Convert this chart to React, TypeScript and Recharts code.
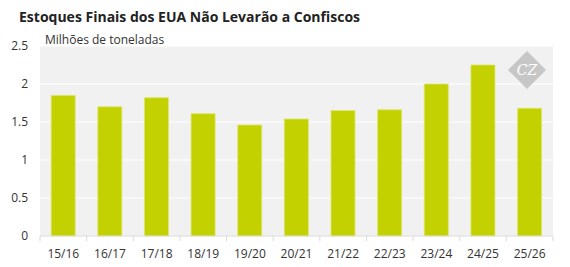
import React from "react";
import { BarChart, Bar, XAxis, YAxis, CartesianGrid } from "recharts";

const seasons = ["15/16", "16/17", "17/18", "18/19", "19/20", "20/21", "21/22", "22/23", "23/24", "24/25", "25/26"];
const stocks = [1.85, 1.7, 1.82, 1.61, 1.46, 1.54, 1.65, 1.66, 2.0, 2.25, 1.68];
const yTicks = [0, 0.5, 1, 1.5, 2, 2.5];

const W = 570;
const H = 267;
const M = { top: 46, right: 17, left: 0, bottom: 0 };
const Y_W = 40;
const FONT = "'Open Sans', sans-serif";

const data = seasons.map((s, i) => ({ season: s, value: stocks[i] }));

/* ── x tick: label + boundary tick marks ──────────────────────── */
function SeasonTick(props: any) {
  const { x, y, payload, index } = props;
  const band = (W - M.right - Y_W) / seasons.length;
  const left = x - band / 2;
  const axisY = y - 8; // tick y sits tickSize + tickMargin below the axis line
  const isLast = index === seasons.length - 1;
  return (
    <g>
      <line x1={left} x2={left} y1={axisY} y2={axisY + 5} stroke="#d9d9d9" />
      {isLast && <line x1={left + band} x2={left + band} y1={axisY} y2={axisY + 5} stroke="#d9d9d9" />}
      <text x={x} y={axisY + 22} textAnchor="middle" fill="#333" fontSize={12} fontFamily={FONT}>
        {payload.value}
      </text>
    </g>
  );
}

export default function App() {
  return (
    <div style={{ position: "absolute", left: 0, top: 0, width: W, height: H, background: "#fff", fontFamily: FONT }}>
      <div style={{ position: "absolute", left: 19, top: 7, fontSize: 14, fontWeight: 700, color: "#222", whiteSpace: "nowrap" }}>
        Estoques Finais dos EUA Não Levarão a Confiscos
      </div>
      <div style={{ position: "absolute", left: 45, top: 31, fontSize: 12, color: "#333", whiteSpace: "nowrap" }}>
        Milhões de toneladas
      </div>
      <BarChart width={W} height={H} data={data} margin={M} barCategoryGap="24%">
        <CartesianGrid vertical={false} stroke="#ffffff" fill="#f1f1f1" />
        <XAxis
          dataKey="season"
          height={H - 236}
          axisLine={{ stroke: "#d9d9d9" }}
          tickLine={false}
          interval={0}
          tick={<SeasonTick />}
        />
        <YAxis
          width={Y_W}
          domain={[0, 2.5]}
          ticks={yTicks}
          axisLine={false}
          tickLine={false}
          tickMargin={6}
          tick={{ fill: "#333", fontSize: 12, fontFamily: FONT }}
        />
        <Bar dataKey="value" fill="#c4d100" stroke="#dde66a" strokeWidth={0.8} isAnimationActive={false} />
      </BarChart>
      <svg style={{ position: "absolute", left: 507, top: 50 }} width={40} height={40}>
        <polygon points="20,1 39,20 20,39 1,20" fill="#c6c6c6" />
        <text x={20} y={25} textAnchor="middle" fill="#fff" fontSize={14} fontFamily="'DejaVu Serif', serif" fontStyle="italic">
          CZ
        </text>
      </svg>
    </div>
  );
}
